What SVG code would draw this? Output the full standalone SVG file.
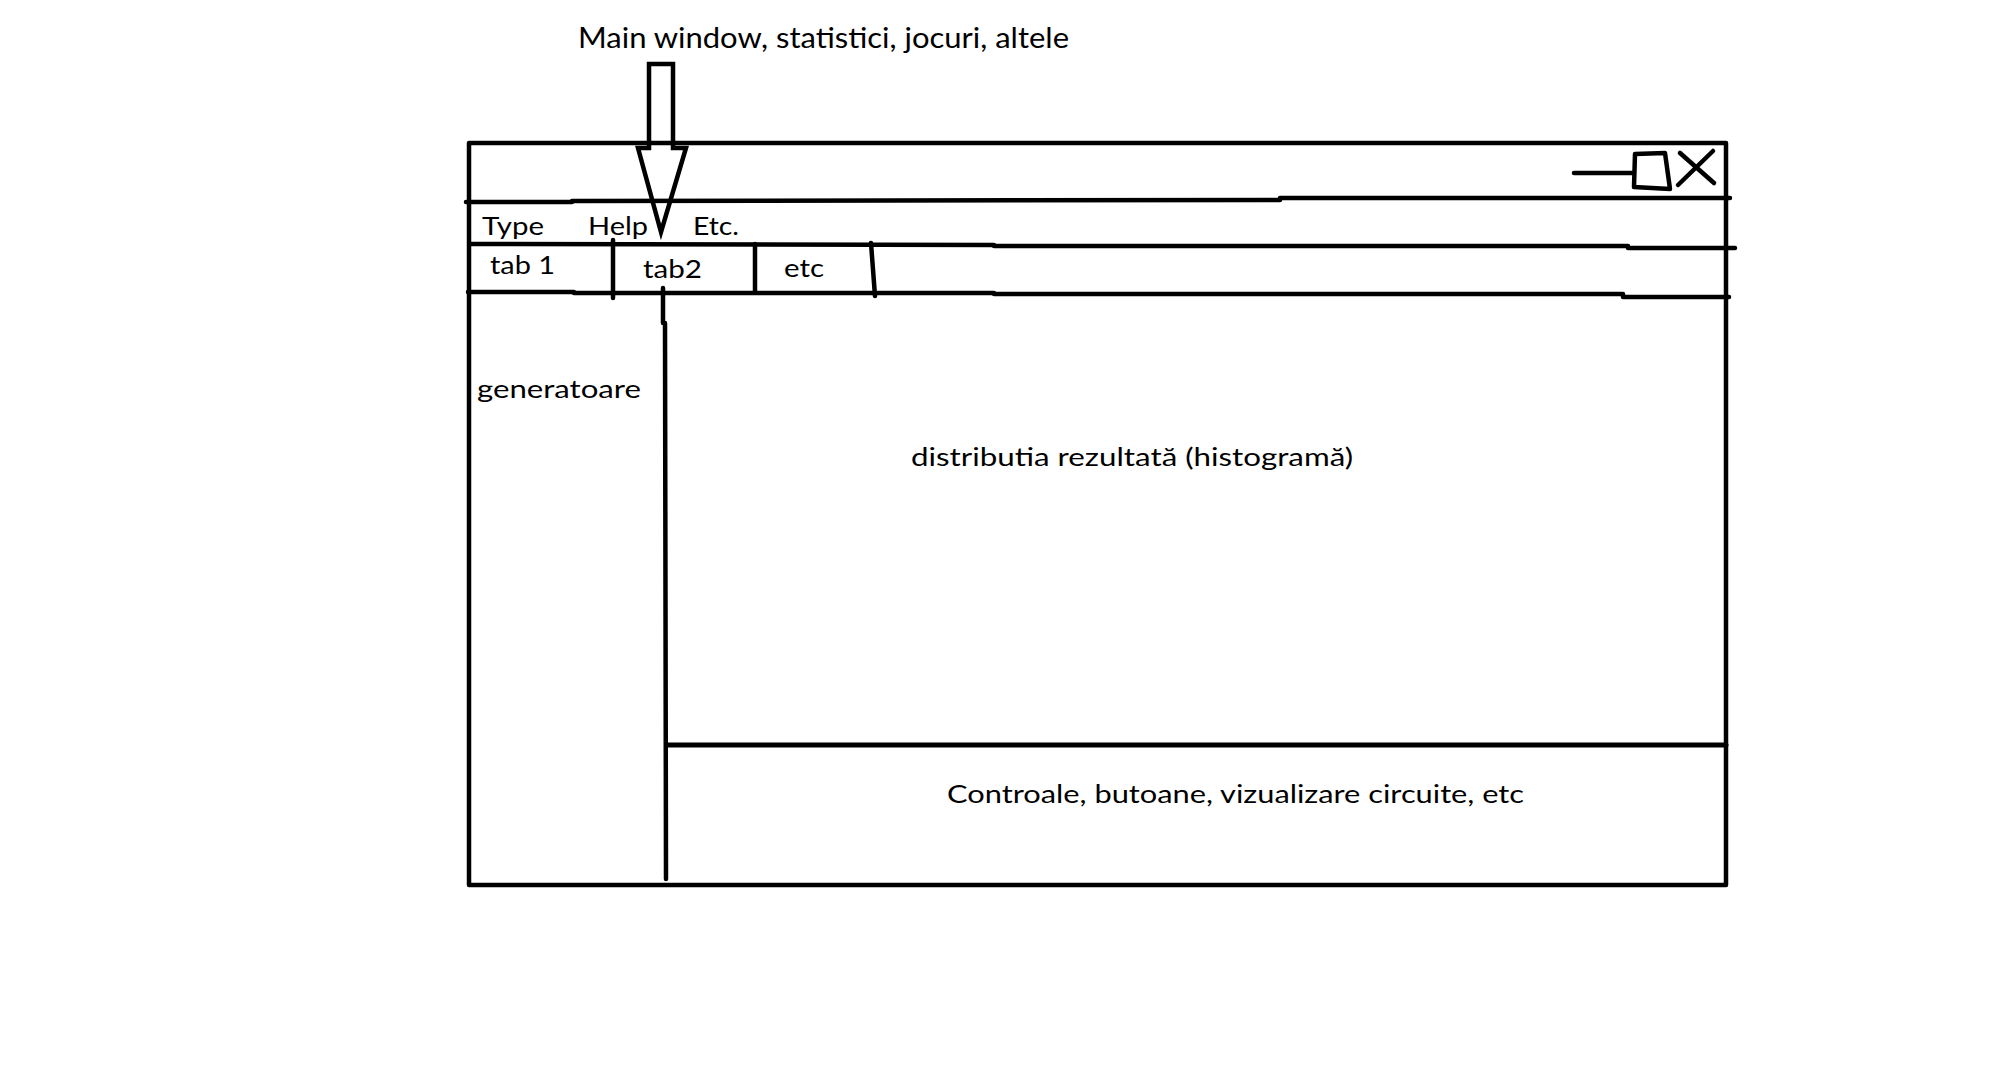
<svg xmlns="http://www.w3.org/2000/svg" width="1991" height="1084" viewBox="0 0 1991 1084">
<style>
.ln{fill:none;stroke:#000;stroke-width:4.5;stroke-linecap:round;stroke-linejoin:round}
.tx{font-family:Lato,"Open Sans","Liberation Sans",sans-serif;font-size:25.5px;fill:#000}
.big{font-size:28px}
</style>
<rect width="1991" height="1084" fill="#fff"/>
<g id="title">
<text class="tx big" x="578" y="48" textLength="491" lengthAdjust="spacingAndGlyphs">Main window, statistici, jocuri, altele</text>
</g>
<g id="window">
<path class="ln" d="M469,143 L1726,143 L1726,885 L469,885 Z"/>
<path class="ln" d="M466,202 L572,202 L572,201 L1280,200 L1280,198 L1730,198"/>
<path class="ln" d="M470,244 L994,245 L994,246 L1628,246 L1628,248 L1735,248"/>
<path class="ln" d="M468,292 L574,292 L574,293 L994,293 L994,294 L1623,294 L1623,297 L1729,297"/>
</g>
<g id="window-controls">
<path class="ln" d="M1574,173 L1634,173"/>
<path class="ln" d="M1635,154 L1665,153 L1670,189 L1634,187 Z"/>
<path class="ln" d="M1678,185 L1713,151"/>
<path class="ln" d="M1680,153 L1714,183"/>
</g>
<g id="menu">
<text class="tx" x="482" y="235" textLength="62" lengthAdjust="spacingAndGlyphs">Type</text>
<text class="tx" x="588" y="235" textLength="60" lengthAdjust="spacingAndGlyphs">Help</text>
<text class="tx" x="693" y="235" textLength="46" lengthAdjust="spacingAndGlyphs">Etc.</text>
</g>
<g id="tabs">
<path class="ln" d="M613,240 L613,298"/>
<path class="ln" d="M755,244 L755,292"/>
<path class="ln" d="M871,243 L875,296"/>
<text class="tx" x="490" y="274" textLength="65" lengthAdjust="spacingAndGlyphs">tab 1</text>
<text class="tx" x="643" y="278" textLength="59" lengthAdjust="spacingAndGlyphs">tab2</text>
<text class="tx" x="784" y="277" textLength="40" lengthAdjust="spacingAndGlyphs">etc</text>
</g>
<g id="generatoare">
<path class="ln" d="M663,288 L663,323 L665,323 L666,879"/>
<text class="tx" x="477" y="398" textLength="164" lengthAdjust="spacingAndGlyphs">generatoare</text>
</g>
<g id="distributia">
<text class="tx" x="911" y="466" textLength="442" lengthAdjust="spacingAndGlyphs">distributia rezultată (histogramă)</text>
</g>
<g id="controale">
<path class="ln" d="M667,745 L1726,745" style="stroke-width:5"/>
<text class="tx" x="947" y="803" textLength="577" lengthAdjust="spacingAndGlyphs">Controale, butoane, vizualizare circuite, etc</text>
</g>
<g id="connectors">
<path class="ln" style="stroke-linejoin:miter" d="M649,64 L673,64 L673,148 L686,148 L661,232 L638,148 L649,148 Z"/>
</g>
</svg>
